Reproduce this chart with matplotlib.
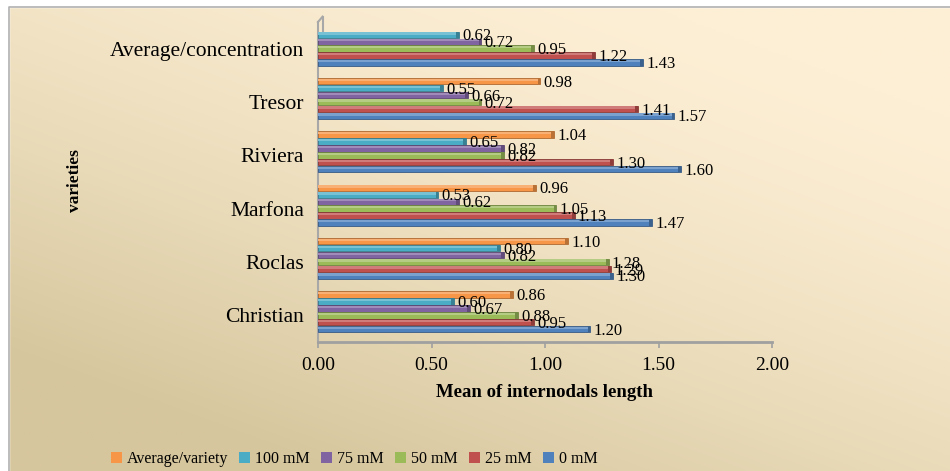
import numpy as np
import matplotlib
matplotlib.use("Agg")
import matplotlib.pyplot as plt
from matplotlib.colors import to_rgb
from matplotlib.patches import Rectangle, Patch

plt.rcParams['font.family'] = ['Liberation Serif', 'DejaVu Serif']

# varieties, bottom to top
varieties = ["Christian", "Roclas", "Marfona", "Riviera", "Tresor", "Average/concentration"]

mm0 = [1.20, 1.30, 1.47, 1.60, 1.57, 1.43]
mm25 = [0.95, 1.29, 1.13, 1.30, 1.41, 1.22]
mm50 = [0.88, 1.28, 1.05, 0.82, 0.72, 0.95]
mm75 = [0.67, 0.82, 0.62, 0.82, 0.66, 0.72]
mm100 = [0.60, 0.80, 0.53, 0.65, 0.55, 0.62]
avg_variety = [0.86, 1.10, 0.96, 1.04, 0.98, None]

# drawn top to bottom inside each group
series = [
    ("Average/variety", avg_variety, "#f79646"),
    ("100 mM", mm100, "#4bacc6"),
    ("75 mM", mm75, "#8064a2"),
    ("50 mM", mm50, "#9bbb59"),
    ("25 mM", mm25, "#c0504d"),
    ("0 mM", mm0, "#4f81bd"),
]
xticks = [0.0, 0.5, 1.0, 1.5, 2.0]

W, H = 950, 471
fig = plt.figure(figsize=(9.5, 4.71), dpi=100)

# beige gradient background, darker toward the lower left corner
bg = fig.add_axes([0, 0, 1, 1], zorder=-10)
xs = np.linspace(0, 1, 400)
ys = np.linspace(0, 1, 200)
gx, gy = np.meshgrid(xs, ys)
d = np.clip((1 - gx) * 0.6 + gy * 0.8 - 0.2, 0, 1) ** 1.4
c_light = np.array([253, 239, 213]) / 255
c_dark = np.array([214, 198, 157]) / 255
img = c_light[None, None, :] * (1 - d[..., None]) + c_dark[None, None, :] * d[..., None]
bg.imshow(img, extent=[0, 1, 0, 1], aspect='auto', origin='upper')
bg.add_patch(Rectangle((0, 1 - 7 / H), 1, 7 / H, color="white", zorder=2))
bg.add_patch(Rectangle((0, 0), 9 / W, 1, color="white", zorder=2))
bg.plot([9 / W, 9 / W, 1], [0, 1 - 7 / H, 1 - 7 / H], color="#b0b0b0", lw=1.2, zorder=3)
bg.set_xlim(0, 1)
bg.set_ylim(0, 1)
bg.axis("off")

ax = fig.add_axes([318 / W, 1 - 342 / H, (772 - 318) / W, (342 - 22) / H])
ax.patch.set_alpha(0)

y = np.arange(len(varieties))
step = 0.13
bar_h = 0.12


def shade(c, f):
    r = np.array(to_rgb(c))
    return tuple(np.clip(r * f, 0, 1))


def lighten(c, f):
    r = np.array(to_rgb(c))
    return tuple(r + (1 - r) * f)


for k, (name, vals, col) in enumerate(series):
    pos = y + 0.39 - k * step
    for yi, v in zip(pos, vals):
        if v is None:
            continue
        ax.barh(yi, v, height=bar_h, color=col, edgecolor=shade(col, 0.7), linewidth=0.6, zorder=3)
        # lighter top face for a rounded 3D look
        ax.barh(yi + bar_h * 0.22, v, height=bar_h * 0.35, color=lighten(col, 0.25),
                linewidth=0, zorder=4)
        ax.barh(yi, 0.012, left=v - 0.012, height=bar_h, color=shade(col, 0.75),
                linewidth=0, zorder=5)
        ax.text(v + 0.015, yi - 0.03, f"{v:.2f}", va="center", ha="left",
                fontsize=12, color="black", zorder=6)

ax.set_xlim(0, 2.0)
ax.set_ylim(-0.5, 5.5)
ax.set_xticks(xticks)
ax.set_xticklabels([f"{t:.2f}" for t in xticks], fontsize=14)
ax.set_yticks(y)
ax.set_yticklabels(varieties, fontsize=15.5)
ax.tick_params(axis="y", length=0, pad=10)
ax.tick_params(axis="x", length=4, width=1.2, color="#a0a0a0", pad=7)

for s in ["top", "right"]:
    ax.spines[s].set_visible(False)
ax.spines["bottom"].set_color("#a0a0a0")
ax.spines["bottom"].set_linewidth(2)
ax.spines["left"].set_color("#a8a8a8")
ax.spines["left"].set_linewidth(1.5)

# depth edge of the side wall
ax.plot([0.0, 0.02], [5.5, 5.6], color="#a8a8a8", lw=1.5, clip_on=False)
ax.plot([0.02, 0.02], [5.6, 5.3], color="#a8a8a8", lw=1.5, clip_on=False)

ax.set_xlabel("Mean of internodals length", fontsize=13.5, fontweight="bold", labelpad=7)
fig.text(75 / W, 1 - 181 / H, "varieties", rotation=90, fontsize=12.5,
         fontweight="bold", ha="center", va="center")

handles = [Patch(facecolor=col, edgecolor="none", label=name) for name, _, col in series]
fig.legend(handles=handles, loc="center", bbox_to_anchor=(354 / W, 1 - 459 / H), ncol=6,
           frameon=False, fontsize=11.5, handlelength=0.7, handleheight=0.7,
           handletextpad=0.3, columnspacing=0.7)

fig.savefig("out.png", dpi=100)
